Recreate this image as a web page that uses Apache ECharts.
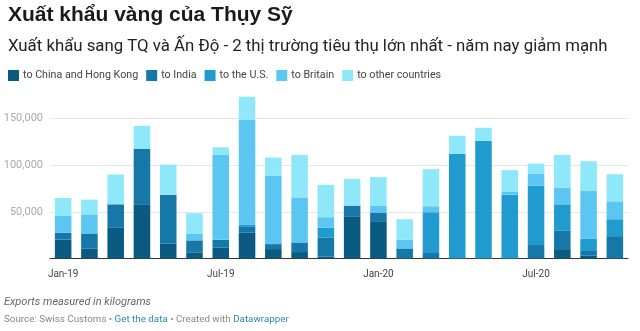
<!DOCTYPE html>
<html>
<head>
<meta charset="utf-8">
<script src="https://cdn.jsdelivr.net/npm/echarts@6/dist/echarts.min.js"></script>
<style>
html,body{margin:0;padding:0;background:#fff;}
#chart{width:640px;height:331px;}
</style>
</head>
<body>
<div id="chart"></div>
<script>
const months = ["Jan-19","Feb-19","Mar-19","Apr-19","May-19","Jun-19","Jul-19","Aug-19","Sep-19","Oct-19","Nov-19","Dec-19",
                "Jan-20","Feb-20","Mar-20","Apr-20","May-20","Jun-20","Jul-20","Aug-20","Sep-20","Oct-20"];
const seriesNames = ["to China and Hong Kong","to India","to the U.S.","to Britain","to other countries"];
const china   = [20400,10800,32800,58000,15800, 6600,11500,27900,10100, 6900, 2000,45200,39900,    0,    0,     0,     0,    0,    0,10000, 3000,    0];
const india   = [ 7100,16000,25200,59200,52500,12800, 8500, 5900, 5300,10300,20200,11400, 9300,10800, 5900,     0,     0,    0,14400,19600, 5000,23900];
const usa     = [    0,    0,    0,    0,    0,    0,    0, 2600,    0,    0,10600,    0,    0,    0,43600,111900,126100,68300,63500,28400,13000,18100];
const britain = [18000,20500,    0,    0,    0, 7400,90900,112000,73400,48200,11400,   0, 7000, 9200, 6400,     0,     0, 3500,13100,17800,51200,19200];
const others  = [19200,15700,31900,24800,32200,21600, 8100,24800,19200,45500,34700,28700,30800,22000,39700, 19500, 13800,22700,10600,35100,31900,29000];
const yTicks = [50000,100000,150000];
const colors = ["#0b5a82","#1678a8","#1f9bd0","#5bc6f2","#8ee8fa"];

const chart = echarts.init(document.getElementById('chart'), null, {renderer:'canvas'});
const dataSets = [china, india, usa, britain, others];
const option = {
  animation:false,
  textStyle:{fontFamily:'Roboto, Arial, sans-serif'},
  title:[
    {text:'Xuất khẩu vàng của Thụy Sỹ', left:3, top:0,
     textStyle:{fontFamily:'Liberation Sans, Arial, sans-serif', fontSize:21, fontWeight:'bold', color:'#1a1a1a'}},
    {text:'Xuất khẩu sang TQ và Ấn Độ - 2 thị trường tiêu thụ lớn nhất - năm nay giảm mạnh', left:3, top:33,
     textStyle:{fontFamily:'Roboto, Arial, sans-serif', fontSize:16.8, fontWeight:'normal', color:'#222'}}
  ],
  legend:{
    left:3, top:65, icon:'rect', itemWidth:11, itemHeight:11, itemGap:8,
    textStyle:{fontSize:10.7, color:'#444', padding:[0,0,0,-1]},
    data:seriesNames
  },
  grid:{left:50, right:12, top:90.3, bottom:72.5, containLabel:false},
  xAxis:{
    type:'category', data:months,
    axisLine:{lineStyle:{color:'#333', width:1}},
    axisTick:{show:false},
    axisLabel:{color:'#444', fontSize:10, margin:11,
      interval:function(i){return i%6===0;}}
  },
  yAxis:{
    type:'value', min:0, max:180000, interval:50000,
    axisLine:{show:false}, axisTick:{show:false},
    axisLabel:{color:'#aaa', fontSize:11, margin:7,
      formatter:function(v){return yTicks.indexOf(v)>=0 ? v.toLocaleString('en-US') : '';}},
    splitLine:{lineStyle:{color:['rgba(0,0,0,0)','#e6e6e6','#e6e6e6','#e6e6e6','rgba(0,0,0,0)'], width:1}}
  },
  series: seriesNames.map((n,i)=>({
    name:n, type:'bar', stack:'total', barWidth:'63%',
    itemStyle:{color:colors[i]},
    data:dataSets[i]
  })),
  graphic:[
    {type:'text', left:4, top:297, style:{text:'Exports measured in kilograms', fontFamily:'Roboto, Arial, sans-serif', fontStyle:'italic', fontSize:11, fill:'#666'}},
    {type:'text', left:4, top:315, style:{
      text:'Source: Swiss Customs • {l|Get the data} • Created with {l|Datawrapper}',
      fontFamily:'Roboto, Arial, sans-serif', fontSize:9.8, fill:'#888',
      rich:{l:{fill:'#2a8aa8', fontSize:9.8, fontFamily:'Roboto, Arial, sans-serif'}}}}
  ]
};
chart.setOption(option);
</script>
</body>
</html>
